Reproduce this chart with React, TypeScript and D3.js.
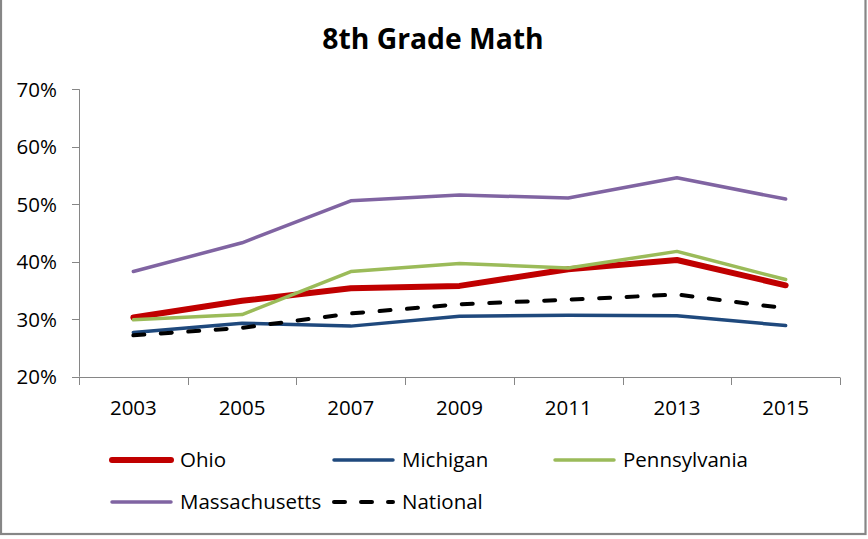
import React from "react";
import * as d3 from "d3";

const years = ["2003", "2005", "2007", "2009", "2011", "2013", "2015"];
const ohio = [30.3, 33.2, 35.4, 35.8, 38.7, 40.3, 35.9];
const michigan = [27.7, 29.3, 28.8, 30.5, 30.7, 30.6, 28.9];
const pennsylvania = [29.9, 30.8, 38.3, 39.7, 38.9, 41.8, 36.9];
const massachusetts = [38.3, 43.3, 50.6, 51.6, 51.1, 54.6, 50.9];
const national = [27.2, 28.5, 31.0, 32.6, 33.4, 34.3, 31.9];
const yTicks = [20, 30, 40, 50, 60, 70];

const W = 868;
const H = 539;
const FONT = "'Open Sans', sans-serif";
const FS = 20.5;

const series = [
  { name: "Ohio", values: ohio, color: "#C00000", width: 6, dash: null, lx: 110, ly: 460 },
  { name: "Michigan", values: michigan, color: "#1F497D", width: 3.5, dash: null, lx: 332, ly: 460 },
  { name: "Pennsylvania", values: pennsylvania, color: "#9BBB59", width: 3.5, dash: null, lx: 553, ly: 460 },
  { name: "Massachusetts", values: massachusetts, color: "#8064A2", width: 3.5, dash: null, lx: 110, ly: 502 },
  { name: "National", values: national, color: "#000000", width: 4, dash: "11,16.5", lx: 332, ly: 502 },
];

export default function App() {
  const x = d3.scaleBand<string>().domain(years).range([79, 840]);
  const y = d3.scaleLinear().domain([20, 70]).range([376.7, 89.3]);
  const line = d3
    .line<number>()
    .x((_, i) => (x(years[i]) as number) + x.bandwidth() / 2)
    .y((d) => y(d));
  const boundaries = years.map((yr) => x(yr) as number).concat([x.range()[1]]);
  const axisColor = "#868686";

  return (
    <svg
      width={W}
      height={H}
      style={{ position: "absolute", left: 0, top: 0, display: "block", background: "#fff" }}
      fontFamily={FONT}
    >
      <rect x={0} y={0} width={W} height={H} fill="#fff" />
      <rect x={1} y={-2} width={864.5} height={536} fill="none" stroke={axisColor} strokeWidth={2.2} />
      <text x={433} y={49} textAnchor="middle" fontSize={28.3} fontWeight="bold" fill="#000">
        8th Grade Math
      </text>
      {/* y axis */}
      <line x1={79.5} x2={79.5} y1={y(70)} y2={y(20)} stroke={axisColor} strokeWidth={1} />
      {yTicks.map((t) => (
        <g key={t}>
          <line x1={72} x2={79.5} y1={Math.round(y(t)) + 0.5} y2={Math.round(y(t)) + 0.5} stroke={axisColor} />
          <text x={57} y={y(t)} dy="0.36em" textAnchor="end" fontSize={FS} fill="#000">
            {t}%
          </text>
        </g>
      ))}
      {/* x axis */}
      <line x1={79} x2={840} y1={377.5} y2={377.5} stroke={axisColor} strokeWidth={1} />
      {boundaries.map((b, i) => (
        <line key={i} x1={Math.round(b) + 0.5} x2={Math.round(b) + 0.5} y1={377.5} y2={385} stroke={axisColor} />
      ))}
      {years.map((yr) => (
        <text
          key={yr}
          x={(x(yr) as number) + x.bandwidth() / 2}
          y={408}
          dy="0.36em"
          textAnchor="middle"
          fontSize={FS}
          fill="#000"
        >
          {yr}
        </text>
      ))}
      {/* series */}
      {series.map((s) => (
        <path
          key={s.name}
          d={line(s.values) || ""}
          fill="none"
          stroke={s.color}
          strokeWidth={s.width}
          strokeDasharray={s.dash || undefined}
          strokeLinecap="round"
          strokeLinejoin="round"
        />
      ))}
      {/* legend */}
      {series.map((s) => (
        <g key={s.name}>
          <line
            x1={s.lx + 2}
            x2={s.lx + 61}
            y1={s.ly}
            y2={s.ly}
            stroke={s.color}
            strokeWidth={s.width}
            strokeDasharray={s.dash ? "11,16" : undefined}
            strokeLinecap="round"
          />
          <text x={s.lx + 70} y={s.ly} dy="0.36em" fontSize={FS} fill="#000">
            {s.name}
          </text>
        </g>
      ))}
    </svg>
  );
}
